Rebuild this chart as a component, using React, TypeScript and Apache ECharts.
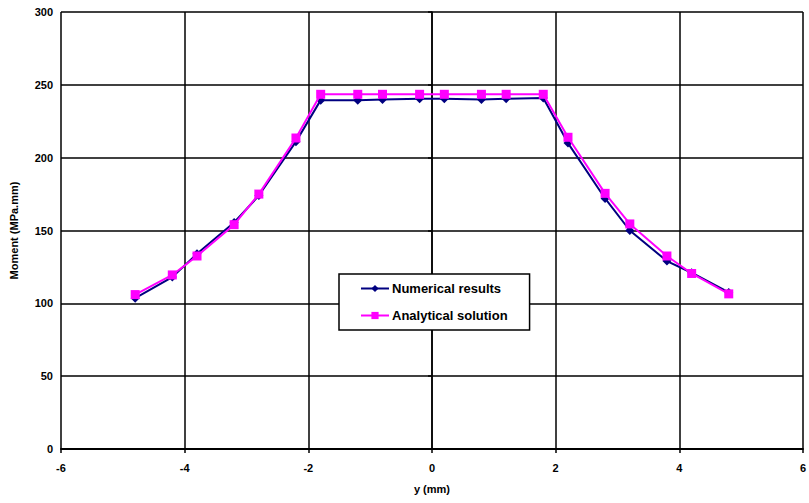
import React, { useEffect, useRef } from "react";
import * as echarts from "echarts";

// Positions along the section (mm)
const yPositions = [-4.8, -4.2, -3.8, -3.2, -2.8, -2.2, -1.8, -1.2, -0.8, -0.2, 0.2, 0.8, 1.2, 1.8, 2.2, 2.8, 3.2, 3.8, 4.2, 4.8];
// Moment values (MPa.mm)
const numericalResults = [103.5, 118, 134, 155.5, 174, 211, 239.5, 239.5, 240, 240.5, 240.5, 240, 240.5, 241, 210, 172, 150, 129, 121, 107.5];
const analyticalSolution = [106, 119.5, 132.5, 154, 175, 213.5, 243.5, 243.5, 243.5, 243.5, 243.5, 243.5, 243.5, 243.5, 214, 175.5, 154.5, 132.5, 120.5, 106.5];

const xTicks = { min: -6, max: 6, interval: 2 };
const yTicks = { min: 0, max: 300, interval: 50 };

const font = "Arial, 'Liberation Sans', sans-serif";

export default function App() {
  const ref = useRef<HTMLDivElement>(null);

  useEffect(() => {
    if (!ref.current) return;
    const chart = echarts.init(ref.current, null, { renderer: "svg" });
    const pair = (vals: number[]) => yPositions.map((x, i) => [x, vals[i]]);
    chart.setOption({
      animation: false,
      backgroundColor: "#ffffff",
      grid: { left: 61, right: 2, top: 12, bottom: 54, containLabel: false },
      xAxis: {
        type: "value",
        ...xTicks,
        name: "y (mm)",
        nameLocation: "middle",
        nameGap: 34,
        nameTextStyle: { fontFamily: font, fontWeight: "bold", fontSize: 11, color: "#000" },
        axisLine: { show: true, onZero: false, lineStyle: { color: "#000", width: 2 } },
        axisTick: { show: true, length: 4, inside: false, lineStyle: { color: "#000", width: 1.5 } },
        axisLabel: { fontFamily: font, fontWeight: "bold", fontSize: 11, color: "#000", margin: 13 },
        splitLine: { show: true, lineStyle: { color: "#000", width: 1.5 } },
      },
      yAxis: {
        type: "value",
        ...yTicks,
        name: "Moment (MPa.mm)",
        nameLocation: "middle",
        nameGap: 42,
        nameTextStyle: { fontFamily: font, fontWeight: "bold", fontSize: 11, color: "#000" },
        axisLine: { show: true, lineStyle: { color: "#000", width: 1.5 } },
        axisTick: { show: true, length: 4, lineStyle: { color: "#000", width: 1.5 } },
        axisLabel: { fontFamily: font, fontWeight: "bold", fontSize: 11, color: "#000", margin: 8 },
        splitLine: { show: true, lineStyle: { color: "#000", width: 1.5 } },
      },
      legend: {
        orient: "vertical",
        left: 339,
        top: 274,
        padding: [8, 22, 8, 21],
        itemGap: 14,
        itemWidth: 28,
        itemHeight: 9,
        borderColor: "#000",
        borderWidth: 1.5,
        backgroundColor: "#fff",
        textStyle: { fontFamily: font, fontWeight: "bold", fontSize: 13, color: "#000", padding: [0, 0, 0, -2] },
        data: ["Numerical results", "Analytical solution"],
      },
      series: [
        {
          name: "Numerical results",
          type: "line",
          data: pair(numericalResults),
          symbol: "diamond",
          symbolSize: 9,
          color: "#000080",
          lineStyle: { color: "#000080", width: 2 },
          itemStyle: { color: "#000080" },
          z: 2,
        },
        {
          name: "Analytical solution",
          type: "line",
          data: pair(analyticalSolution),
          symbol: "rect",
          symbolSize: 9,
          color: "#ff00ff",
          lineStyle: { color: "#ff00ff", width: 2 },
          itemStyle: { color: "#ff00ff" },
          z: 3,
        },
      ],
    });
    return () => chart.dispose();
  }, []);

  return (
    <div
      ref={ref}
      style={{ position: "fixed", left: 0, top: 0, width: 809, height: 503, background: "#fff" }}
    />
  );
}
